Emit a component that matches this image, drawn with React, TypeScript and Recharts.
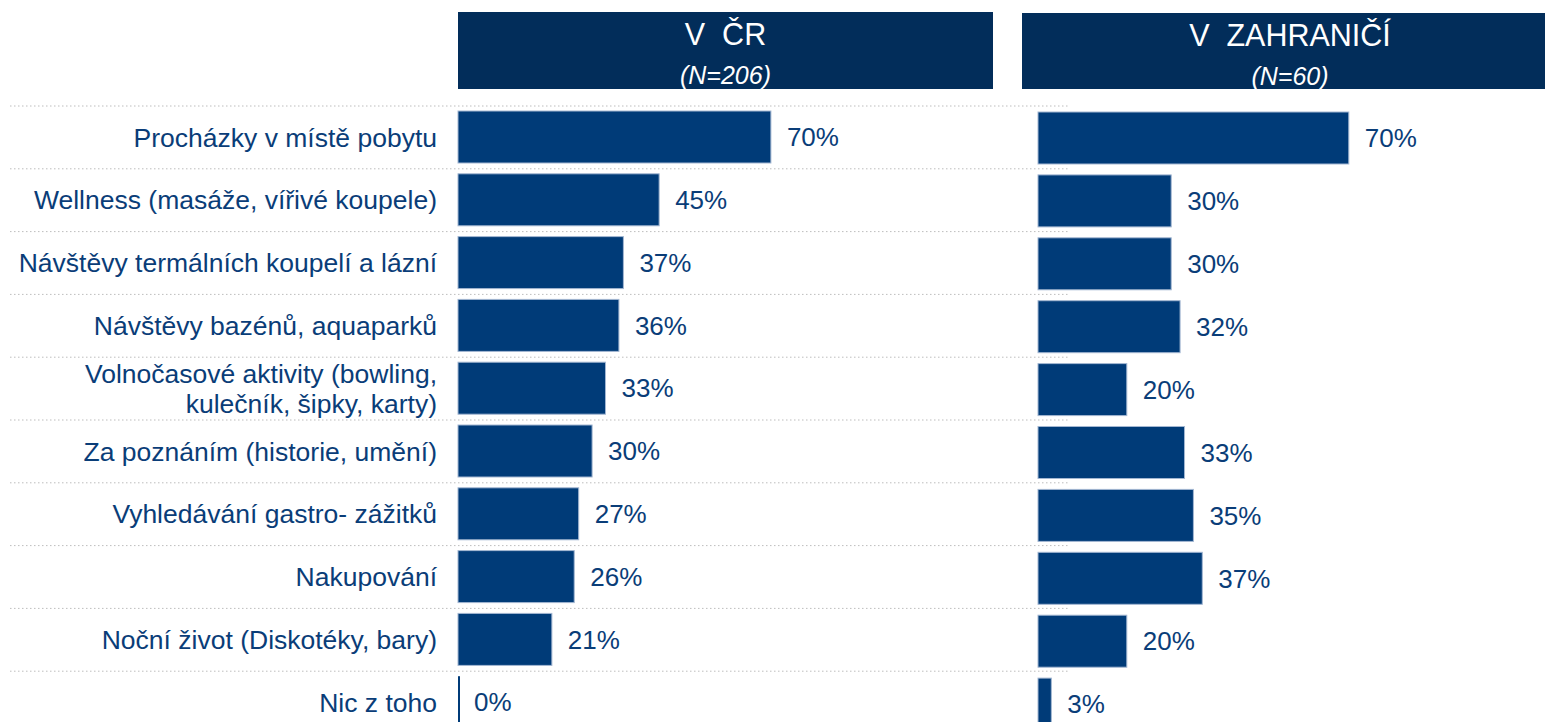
import React from 'react';
import { BarChart, Bar, XAxis, YAxis, LabelList } from 'recharts';

const categories = [
  'Procházky v místě pobytu',
  'Wellness (masáže, vířivé koupele)',
  'Návštěvy termálních koupelí a lázní',
  'Návštěvy bazénů, aquaparků',
  'Volnočasové aktivity (bowling,\nkulečník, šipky, karty)',
  'Za poznáním (historie, umění)',
  'Vyhledávání gastro- zážitků',
  'Nakupování',
  'Noční život (Diskotéky, bary)',
  'Nic z toho',
];
const domesticValues = [70, 45, 37, 36, 33, 30, 27, 26, 21, 0];
const abroadValues = [70, 30, 30, 32, 20, 33, 35, 37, 20, 3];
const panelTitles = ['V  ČR', 'V  ZAHRANIČÍ'];
const panelCounts = ['(N=206)', '(N=60)'];

const data = categories.map((name, i) => ({
  name,
  domestic: domesticValues[i],
  abroad: abroadValues[i],
}));

const FONT = '"Liberation Sans", Arial, sans-serif';
const BAR = '#003B78';
const HEADER = '#022D5A';
const TEXT = '#0A3D78';
const ROW = 62.8;
const PLOT_H = ROW * categories.length;

// category label plus the dotted row separator above it
const CategoryTick = ({ x, y, payload }: any) => {
  const lines = String(payload.value).split('\n');
  const top = y - ROW / 2;
  return (
    <g>
      <line x1={10} x2={1069} y1={top} y2={top} stroke="#BDBDBD" strokeWidth={1} strokeDasharray="1.5 2.5" />
      <text x={x} y={y} textAnchor="end" fill={TEXT} fontSize={26.5} fontFamily={FONT}>
        {lines.map((l, i) => (
          <tspan key={i} x={x} dy={i === 0 ? `${0.35 - (lines.length - 1) * 0.565}em` : '1.13em'}>
            {l}
          </tspan>
        ))}
      </text>
    </g>
  );
};

// zero-width bars still show a thin line, like the original
const BarShape = (props: any) => {
  const { x, y, width, height } = props;
  if (!width || width < 1) return <rect x={x} y={y} width={2} height={height} fill={BAR} />;
  return <rect x={x} y={y} width={width} height={height} fill={BAR} stroke="#A3B7D2" strokeWidth={1} />;
};

const fmt = (v: any) => `${v}%`;

const Header = ({ left, top, width, height, title, count }: any) => (
  <div
    style={{
      position: 'absolute', left, top, width, height, background: HEADER, color: '#fff',
      fontFamily: FONT, textAlign: 'center',
    }}
  >
    <div style={{ position: 'absolute', left: 0, right: 0, top: 7, fontSize: 30.5, lineHeight: '31px', whiteSpace: 'pre' }}>{title}</div>
    <div style={{ position: 'absolute', left: 0, right: 0, top: 50, fontSize: 25, lineHeight: '26px', fontStyle: 'italic' }}>{count}</div>
  </div>
);

export default function App() {
  return (
    <div style={{ position: 'absolute', left: 0, top: 0, width: 1545, height: 722, overflow: 'hidden', background: '#fff' }}>
      <div style={{ position: 'absolute', left: 0, top: 0 }}>
        <BarChart
          width={1070}
          height={106 + PLOT_H + 10}
          data={data}
          layout="vertical"
          margin={{ top: 106, right: 165, bottom: 10, left: 10 }}
        >
          <XAxis type="number" domain={[0, 100]} hide />
          <YAxis
            type="category"
            dataKey="name"
            width={448}
            axisLine={false}
            tickLine={false}
            tickSize={0}
            tickMargin={21}
            interval={0}
            tick={<CategoryTick />}
          />
          <Bar dataKey="domestic" barSize={52} shape={<BarShape />} isAnimationActive={false}>
            <LabelList dataKey="domestic" position="right" offset={16} formatter={fmt} fill={TEXT} fontSize={26} fontFamily={FONT} />
          </Bar>
        </BarChart>
      </div>
      <div style={{ position: 'absolute', left: 1000, top: 0 }}>
        <BarChart
          width={545}
          height={108 + PLOT_H + 10}
          data={data}
          layout="vertical"
          margin={{ top: 107, right: 63, bottom: 10, left: 38 }}
        >
          <XAxis type="number" domain={[0, 100]} hide />
          <YAxis type="category" dataKey="name" hide />
          <Bar dataKey="abroad" barSize={52} shape={<BarShape />} isAnimationActive={false}>
            <LabelList dataKey="abroad" position="right" offset={16} formatter={fmt} fill={TEXT} fontSize={26} fontFamily={FONT} />
          </Bar>
        </BarChart>
      </div>
      <Header left={458} top={12} width={535} height={77} title={panelTitles[0]} count={panelCounts[0]} />
      <Header left={1022} top={13} width={536} height={76} title={panelTitles[1]} count={panelCounts[1]} />
    </div>
  );
}
